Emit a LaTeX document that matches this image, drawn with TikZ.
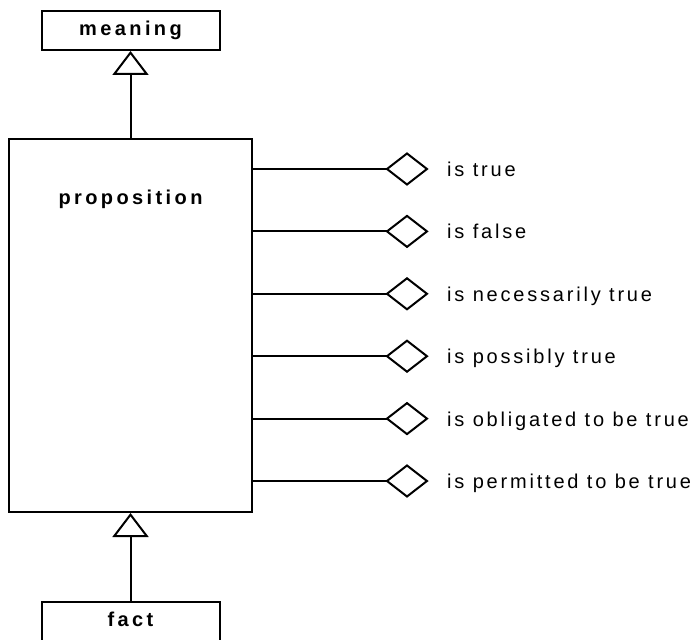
\documentclass[tikz,border=0pt]{standalone}
\usepackage{fontspec}
\setmainfont{Liberation Sans}
\newfontfamily\attrfont[LetterSpace=14]{Liberation Sans}
\newfontfamily\classfont[LetterSpace=17]{Liberation Sans}
\usetikzlibrary{arrows.meta,positioning,shapes.geometric}

\begin{document}
\begin{tikzpicture}[x=1pt,y=-1pt,
    classname/.style={font=\classfont\bfseries\fontsize{20}{22}\selectfont, text height=14pt, text depth=4pt, inner sep=0pt},
    classbox/.style={classname, draw, line width=2pt},
    attr/.style={font=\attrfont\fontsize{20}{22}\selectfont, text height=15pt, text depth=0pt, inner sep=0pt},
    agg/.style={diamond, draw, line width=2pt, minimum width=40pt, minimum height=31pt, inner sep=0pt, outer sep=0pt},
    link/.style={line width=2pt},
    isa/.style={link, -{Triangle[open, length=24pt, width=36pt]}}]
    \clip (0,0) rectangle (700,639);
    \node (meaning) [classbox, minimum width=178pt, minimum height=39pt] at (130.5,30.5) {meaning};
    \node (prop) [classbox, minimum width=243pt, minimum height=373pt,
      label={[classname, anchor=center, yshift=-61pt]north:proposition}] at (130.5,325.5) {};
    \node (fact) [classbox, minimum width=178pt, minimum height=39pt] at (130.5,621.5) {fact};
    \draw[isa] (prop) -- (meaning);
    \draw[isa] (fact) -- (prop);
    % predicates
    \foreach \txt [count=\i from 0] in {is true, is false, is necessarily true, is possibly true, is obligated to be true, is permitted to be true} {
      \node (d\i) [agg] at (407,169+62.4*\i) {};
      \node (t\i) [attr, right=20pt of d\i] {\txt};
      \draw[link] (prop.east |- d\i) -- (d\i);
    }
\end{tikzpicture}
\end{document}
